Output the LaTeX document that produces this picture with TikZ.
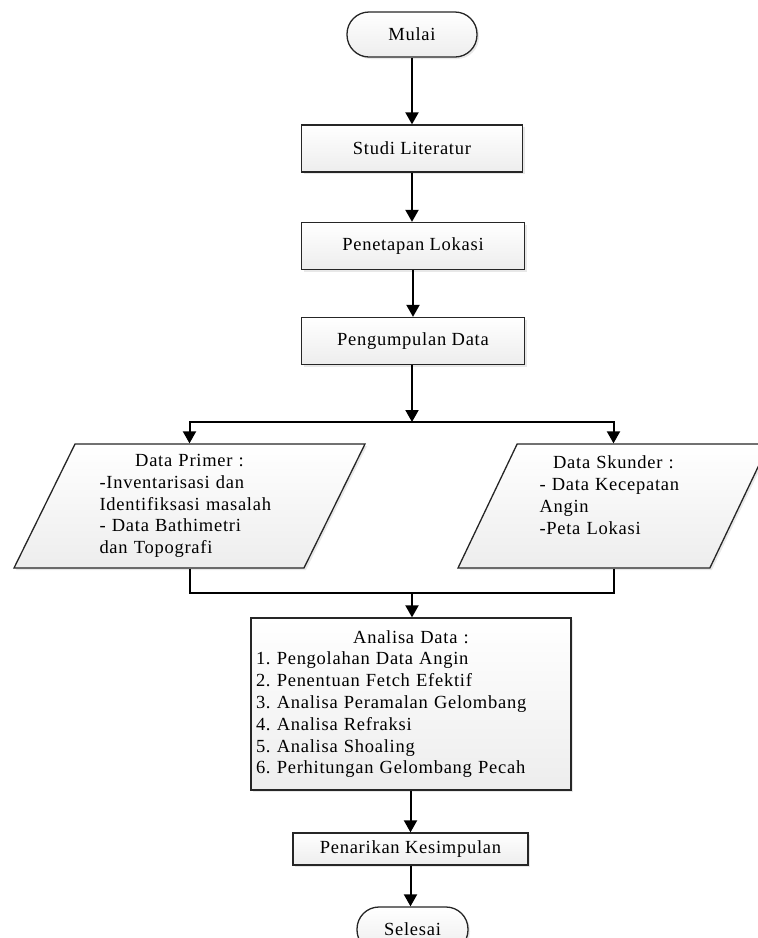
\documentclass[tikz,border=0pt]{standalone}
\usepackage{fontspec}
\setmainfont{Liberation Serif}[LetterSpace=4]
\usetikzlibrary{shapes.geometric,shadows,arrows.meta}
\frenchspacing

\tikzset{
  box/.style={draw=black!85, line width=1.3pt, top color=white, bottom color=gray!14,
    drop shadow={shadow xshift=2pt, shadow yshift=-2pt, fill=gray!35},
    font=\fontsize{18.5}{21.8}\selectfont},
  proc/.style={box, rectangle, minimum height=47pt},
  term/.style={box, rectangle, rounded corners=22pt, minimum height=45pt},
  io/.style={box, trapezium, trapezium left angle=61, trapezium right angle=119,
    trapezium stretches body, minimum height=124pt, align=left},
  flow/.style={line width=2pt, -{Triangle[width=13pt,length=12pt]}},
  joint/.style={line width=2pt}
}

\begin{document}
\begin{tikzpicture}[x=1pt,y=-1pt]
\useasboundingbox (0,0) rectangle (758,938);

\node[term, minimum width=130pt] (mulai) at (412,34.5) {Mulai};
\node[proc, minimum width=221pt] (studi) at (412,148.5) {Studi Literatur};
\node[proc, minimum width=223pt] (lokasi) at (413,246) {Penetapan Lokasi};
\node[proc, minimum width=223pt] (kumpul) at (413,341) {Pengumpulan Data};

\node[io, minimum width=351pt, text width=180pt] (primer) at (189.5,506)
  {\makebox[\linewidth]{Data Primer :}\\-Inventarisasi dan\\Identifiksasi masalah\\- Data Bathimetri\\dan Topografi};
\node[io, minimum width=311pt, text width=148pt] (skunder) at (613.5,506)
  {\makebox[\linewidth]{Data Skunder :}\\- Data Kecepatan\\Angin\\-Peta Lokasi\\\mbox{}};

\node[proc, minimum width=320pt, minimum height=172pt, text width=310pt, align=left] (analisa) at (411,704)
  {\makebox[\linewidth]{Analisa Data :}\\1. Pengolahan Data Angin\\2. Penentuan Fetch Efektif\\3. Analisa Peramalan Gelombang\\4. Analisa Refraksi\\5. Analisa Shoaling\\6. Perhitungan Gelombang Pecah};
\node[proc, minimum width=235pt, minimum height=32pt] (simpul) at (410.5,849) {Penarikan Kesimpulan};
\node[term, minimum width=111pt] (selesai) at (412.5,929.5) {Selesai};

\coordinate (cabang) at (412,422);
\coordinate (gabung) at (412,593);

\draw[flow] (mulai) -- (studi);
\draw[flow] (studi) -- (studi |- lokasi.north);
\draw[flow] (lokasi) -- (lokasi |- kumpul.north);
\draw[flow] (kumpul.south -| cabang) -- (cabang);
\draw[flow] (cabang) -| (primer);
\draw[flow] (cabang) -| (skunder);
\draw[joint] (primer) |- (gabung);
\draw[joint] (skunder) |- (gabung);
\draw[flow] (gabung) -- (gabung |- analisa.north);
\draw[flow] (analisa.south -| simpul) -- (simpul);
\draw[flow] (simpul) -- (simpul |- selesai.north);
\end{tikzpicture}
\end{document}
